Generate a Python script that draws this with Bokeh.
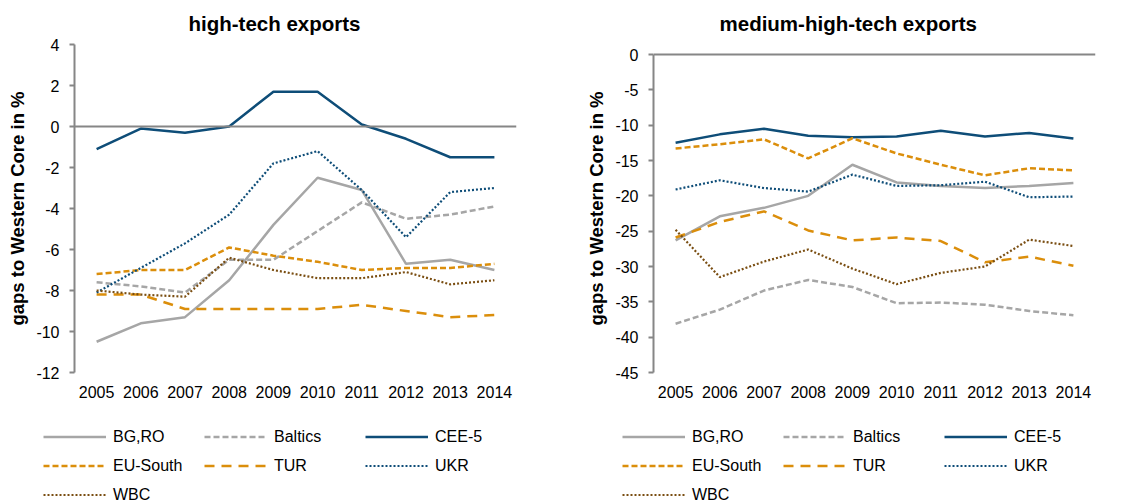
from bokeh.plotting import figure
from bokeh.models import (FixedTicker, Range1d, Span, Legend, LegendItem, Title,
                          CustomJSTickFormatter)
from bokeh.layouts import row, column
from bokeh.embed import file_html
from bokeh.resources import INLINE

years = [2005, 2006, 2007, 2008, 2009, 2010, 2011, 2012, 2013, 2014]
series = ["BG,RO", "Baltics", "CEE-5", "EU-South", "TUR", "UKR", "WBC"]

# high-tech exports
ht_bgro = [-10.5, -9.6, -9.3, -7.5, -4.8, -2.5, -3.1, -6.7, -6.5, -7.0]
ht_baltics = [-7.6, -7.8, -8.1, -6.5, -6.5, -5.1, -3.7, -4.5, -4.3, -3.9]
ht_cee5 = [-1.1, -0.1, -0.3, 0.0, 1.7, 1.7, 0.1, -0.6, -1.5, -1.5]
ht_eusouth = [-7.2, -7.0, -7.0, -5.9, -6.3, -6.6, -7.0, -6.9, -6.9, -6.7]
ht_tur = [-8.2, -8.2, -8.9, -8.9, -8.9, -8.9, -8.7, -9.0, -9.3, -9.2]
ht_ukr = [-8.1, -6.9, -5.7, -4.3, -1.8, -1.2, -3.1, -5.4, -3.2, -3.0]
ht_wbc = [-8.0, -8.2, -8.3, -6.4, -7.0, -7.4, -7.4, -7.1, -7.7, -7.5]

# medium-high-tech exports
mht_bgro = [-26.3, -22.9, -21.7, -20.0, -15.6, -18.1, -18.6, -18.9, -18.6, -18.2]
mht_baltics = [-38.1, -36.1, -33.4, -31.9, -32.9, -35.2, -35.1, -35.4, -36.3, -36.9]
mht_cee5 = [-12.5, -11.3, -10.5, -11.5, -11.7, -11.6, -10.8, -11.6, -11.1, -11.9]
mht_eusouth = [-13.3, -12.7, -12.0, -14.7, -11.85, -14.0, -15.6, -17.1, -16.1, -16.4]
mht_tur = [-25.9, -23.7, -22.2, -24.9, -26.3, -25.9, -26.4, -29.4, -28.6, -29.9]
mht_ukr = [-19.1, -17.8, -18.9, -19.4, -17.0, -18.6, -18.5, -18.0, -20.2, -20.1]
mht_wbc = [-24.8, -31.5, -29.3, -27.6, -30.3, -32.5, -30.9, -30.0, -26.2, -27.1]

ht_ticks = [-12, -10, -8, -6, -4, -2, 0, 2, 4]
mht_ticks = [-45, -40, -35, -30, -25, -20, -15, -10, -5, 0]

GREY = "#A6A6A6"
NAVY = "#0E4D78"
ORANGE = "#DB8E0B"
BROWN = "#7A4E12"
AXIS = "#868686"
FONT = "Liberation Sans"

styles = {
    "BG,RO": dict(line_color=GREY, line_width=2.5, line_dash="solid"),
    "Baltics": dict(line_color=GREY, line_width=2.5, line_dash="6 3"),
    "CEE-5": dict(line_color=NAVY, line_width=2.5, line_dash="solid"),
    "EU-South": dict(line_color=ORANGE, line_width=2.5, line_dash="6 3"),
    "TUR": dict(line_color=ORANGE, line_width=2.5, line_dash="10 7"),
    "UKR": dict(line_color=NAVY, line_width=2.2, line_dash="2 2"),
    "WBC": dict(line_color=BROWN, line_width=2.2, line_dash="2 2"),
}

ht_data = [ht_bgro, ht_baltics, ht_cee5, ht_eusouth, ht_tur, ht_ukr, ht_wbc]
mht_data = [mht_bgro, mht_baltics, mht_cee5, mht_eusouth, mht_tur, mht_ukr, mht_wbc]


def make(title, data, yrange, ybounds, ticks, width, bl, br, title_offset):
    p = figure(width=width, height=410, output_backend="svg", toolbar_location=None,
               x_range=Range1d(2004.5, 2014.5), y_range=Range1d(*yrange),
               min_border_left=bl, min_border_right=br, min_border_top=44,
               min_border_bottom=38)
    p.outline_line_color = None
    p.xgrid.visible = False
    p.ygrid.visible = False
    p.background_fill_color = "white"
    p.border_fill_color = "white"

    t = Title(text=title, text_font=FONT, text_font_size="20.5px", text_font_style="bold",
              text_color="black", align="left", offset=title_offset, standoff=19)
    p.add_layout(t, "above")

    p.add_layout(Span(location=0, dimension="width", line_color=AXIS, line_width=2))

    xa = p.xaxis[0]
    xa.ticker = FixedTicker(ticks=years)
    xa.axis_line_color = None
    xa.major_tick_line_color = None
    xa.minor_tick_line_color = None
    xa.major_label_text_font = FONT
    xa.major_label_text_font_size = "16px"
    xa.major_label_text_color = "black"
    xa.major_label_standoff = 7

    ya = p.yaxis[0]
    ya.ticker = FixedTicker(ticks=ticks)
    ya.formatter = CustomJSTickFormatter(code="return String(tick)")
    ya.bounds = ybounds
    ya.axis_line_color = AXIS
    ya.axis_line_width = 2
    ya.major_tick_line_color = AXIS
    ya.major_tick_line_width = 2
    ya.major_tick_out = 5
    ya.major_tick_in = 0
    ya.minor_tick_line_color = None
    ya.major_label_text_font = FONT
    ya.major_label_text_font_size = "16px"
    ya.major_label_text_color = "black"
    ya.major_label_standoff = 10
    ya.axis_label = "gaps to Western Core in %"
    ya.axis_label_text_font = FONT
    ya.axis_label_text_font_size = "18.5px"
    ya.axis_label_text_font_style = "bold"
    ya.axis_label_text_color = "black"
    ya.axis_label_standoff = 5

    for name, vals in zip(series, data):
        p.line(years, vals, **styles[name])
    return p


p1 = make("high-tech exports", ht_data, (-12, 4), (-12, 4), ht_ticks, 570, 74, 54, 114)
p2 = make("medium-high-tech exports", mht_data, (-45, 45 * 10 / 318), (-45, 0),
          mht_ticks, 569, 83, 44, 66)

# legend strip (its lines lie outside its visible range; only the legend shows)
lf = figure(width=1139, height=93, output_backend="svg", toolbar_location=None,
            x_axis_type=None, y_axis_type=None, min_border=0,
            x_range=Range1d(0, 1), y_range=Range1d(0, 1))
lf.outline_line_color = None
lf.xgrid.visible = False
lf.ygrid.visible = False
lf.background_fill_color = "white"
lf.border_fill_color = "white"
items = []
for name, vals in zip(series, ht_data):
    r = lf.line(years, vals, **styles[name])
    items.append((name, r))

for x0 in (43, 622):
    leg = Legend(items=[LegendItem(label=n, renderers=[r]) for n, r in items],
                 orientation="horizontal", ncols=3,
                 location=(x0, -6), glyph_width=63, glyph_height=29,
                 label_height=29, label_width=91, label_standoff=7, spacing=0,
                 padding=0, margin=0, border_line_color=None,
                 background_fill_alpha=0, label_text_font=FONT,
                 label_text_font_size="16px", label_text_color="black")
    lf.add_layout(leg, "center")

layout = column(row(p1, p2), lf)
open("out.html", "w").write(file_html(layout, INLINE))
